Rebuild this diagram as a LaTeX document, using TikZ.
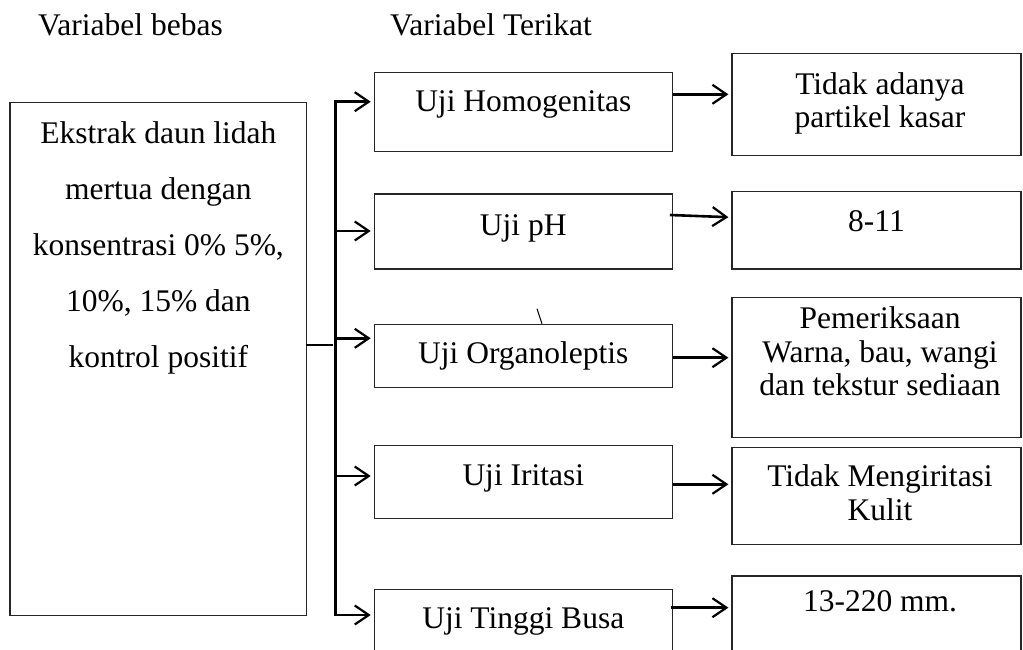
\documentclass[tikz,border=0pt]{standalone}
\usepackage{fontspec}
\setmainfont{Liberation Serif}
\usetikzlibrary{arrows.meta}

\begin{document}
\begin{tikzpicture}[x=1pt,y=1pt]
\tikzstyle{every node}+=[inner sep=0pt, font=\fontsize{31.5}{33.5}\selectfont]
\tikzstyle{kotak}=[draw=black!85, line width=1.2pt, rectangle]
\tikzstyle{panah}=[black, line width=2.6pt, shorten >=3pt]
\tikzset{>={Straight Barb[length=14pt,width=19pt,line width=2.2pt]}}
\useasboundingbox (0,0) rectangle (1023,-650);
\clip (0,0) rectangle (1023,-650);
\node[anchor=base west] (hbebas) at (38,-36) {Variabel bebas};
\node[anchor=base west] (hterikat) at (390,-36) {Variabel Terikat};
\node[kotak, minimum width=296.7pt, minimum height=513pt] (bebas) at (158.35,-359.2) {};
\node[align=center, font=\fontsize{31.5}{56}\selectfont] (bebastxt) at (158.35,-247.7) {Ekstrak daun lidah\\mertua dengan\\konsentrasi 0\% 5\%,\\10\%, 15\% dan\\kontrol positif};
\node[kotak, minimum width=298pt, minimum height=79.4pt] (homog) at (523.3,-112) {};
\node[anchor=base] (homogtxt) at (523.3,-111.7) {Uji Homogenitas};
\node[kotak, minimum width=298pt, minimum height=75pt] (ph) at (523.3,-231.5) {};
\node[anchor=base] (phtxt) at (523.3,-235) {Uji pH};
\node[kotak, minimum width=298pt, minimum height=63.4pt] (organo) at (523.3,-356) {};
\node[anchor=base] (organotxt) at (523.3,-363.3) {Uji Organoleptis};
\node[kotak, minimum width=298pt, minimum height=72.6pt] (iritasi) at (523.3,-482) {};
\node[anchor=base] (iritasitxt) at (523.3,-485) {Uji Iritasi};
\node[kotak, minimum width=298pt, minimum height=80.7pt] (busa) at (523.3,-629.65) {};
\node[anchor=base] (busatxt) at (523.3,-628.3) {Uji Tinggi Busa};
\node[kotak, minimum width=289pt, minimum height=102.4pt] (tidak) at (876.5,-104.5) {};
\node[align=center] (tidaktxt) at (880,-103.5) {Tidak adanya\\partikel kasar};
\node[kotak, minimum width=289pt, minimum height=77.3pt] (delapan) at (876.5,-230.35) {};
\node[anchor=base] (delapantxt) at (876.5,-231.7) {8-11};
\node[kotak, minimum width=289pt, minimum height=140.4pt] (periksa) at (876.5,-367.5) {};
\node[align=center] (periksatxt) at (880,-351.7) {Pemeriksaan\\Warna, bau, wangi\\dan tekstur sediaan};
\node[kotak, minimum width=289pt, minimum height=97pt] (kulit) at (876.5,-495.8) {};
\node[align=center] (kulittxt) at (880,-492.6) {Tidak Mengiritasi\\Kulit};
\node[kotak, minimum width=289pt, minimum height=94pt] (hasilbusa) at (876.5,-623) {};
\node[anchor=base] (hasilbusatxt) at (880,-611.7) {13-220 mm.};
\coordinate (b1) at (335.7,-101.7);
\coordinate (b2) at (335.7,-231);
\coordinate (b3) at (335.7,-338.3);
\coordinate (b4) at (335.7,-476);
\coordinate (b5) at (335.7,-615);
\coordinate (trunk) at (335.7,-345);
\draw[panah] ([xshift=-1.5pt]bebas.east |- trunk) -- (trunk);
\draw[panah, <->, shorten <=3pt] (homog.west |- b1) -- (b1) -- (b5) -- (busa.west |- b5);
\draw[panah, ->] (b2) -- (ph.west |- b2);
\draw[panah, ->] (b3) -- (organo.west |- b3);
\draw[panah, ->] (b4) -- (iritasi.west |- b4);
\draw[panah, ->] (homog.east |- 0,-94.3) -- (tidak.west |- 0,-94.3);
\draw[panah, ->] ([xshift=-3pt]ph.east |- 0,-215) -- (delapan.west |- 0,-217.3);
\draw[panah, ->] (organo.east |- 0,-357.7) -- (periksa.west |- 0,-357.7);
\draw[panah, ->] (iritasi.east |- 0,-484.3) -- (kulit.west |- 0,-484.3);
\draw[panah, ->] ([xshift=-2pt]busa.east |- 0,-607.7) -- (hasilbusa.west |- 0,-607.7);
\draw[line width=1pt] ([xshift=18.7pt]organo.north) -- ++(-5,15);
\end{tikzpicture}
\end{document}
